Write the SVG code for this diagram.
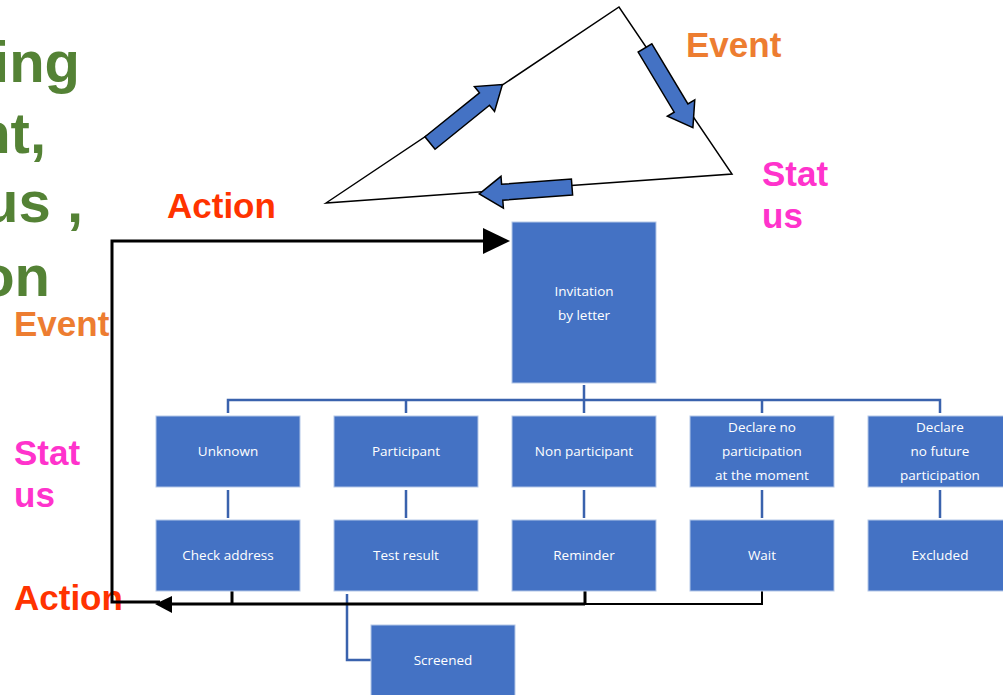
<svg xmlns="http://www.w3.org/2000/svg" width="1003" height="695" viewBox="0 0 1003 695">
<style>
.box{fill:#4472C4;stroke:#B4C7E7;stroke-width:1}
.bt{font-family:"Open Sans",sans-serif;font-size:13.5px;fill:#FFFFFF;text-anchor:middle}
.conn{stroke:#3A62AD;stroke-width:2.5;fill:none}
.fb{stroke:#000;fill:none}
.big{font-family:"Liberation Sans",Arial,sans-serif;font-weight:bold;font-size:58px;fill:#548235;text-anchor:end}
.lbl{font-family:"Liberation Sans",Arial,sans-serif;font-weight:bold;font-size:35px}
.act{fill:#FF3300}.evt{fill:#ED7D31}.sta{fill:#FF33CC}
.blk{fill:#4472C4;stroke:#000;stroke-width:1.5;stroke-linejoin:miter}
</style>
<defs>
<polygon id="barrow" points="0,-8 70,-8 70,-16 93,0 70,16 70,8 0,8"/>
</defs>

<g id="title">
<text class="big" x="80" y="82">ing</text>
<text class="big" x="46" y="153">nt,</text>
<text class="big" x="83" y="222">us ,</text>
<text class="big" x="50" y="296">on</text>
</g>

<g id="cycle">
<polygon points="326,203 619,7 732,174" fill="none" stroke="#000" stroke-width="1.5"/>
<use href="#barrow" class="blk" transform="translate(430,143) rotate(-38.9)"/>
<use href="#barrow" class="blk" transform="translate(645,48) rotate(59)"/>
<use href="#barrow" class="blk" transform="translate(572,187) rotate(175.7)"/>
</g>

<g id="labels">
<text class="lbl act" x="167" y="218">Action</text>
<text class="lbl evt" x="686" y="57">Event</text>
<text class="lbl sta" x="762" y="186">Stat</text>
<text class="lbl sta" x="762" y="228">us</text>
<text class="lbl evt" x="14" y="336">Event</text>
<text class="lbl sta" x="14" y="465">Stat</text>
<text class="lbl sta" x="14" y="507">us</text>
<text class="lbl act" x="14" y="610">Action</text>
</g>

<g id="connectors">
<path class="conn" d="M584,385 V413 M228,413 V400 H940 V413 M406,400 V413 M762,400 V413"/>
<path class="conn" d="M228,490 V518 M406,490 V518 M584,490 V518 M762,490 V518 M940,490 V518"/>
<path class="conn" d="M347,594 V660 H371"/>
<path class="fb" stroke-width="3" d="M490,241 H112 V602 H160"/>
<polygon points="483,228 510,241 483,254" fill="#000"/>
<path class="fb" stroke-width="3" d="M168,604 H585 M232,579 V604 M585,579 V604"/>
<path class="fb" stroke-width="2" d="M585,604 H762 V580"/>
<polygon points="155,604 172,596 172,613" fill="#000"/>
</g>

<g id="n-invitation"><rect class="box" x="512" y="222" width="144" height="161"/>
<text class="bt" x="584" y="296">Invitation</text><text class="bt" x="584" y="320">by letter</text></g>

<g id="n-unknown"><rect class="box" x="156" y="416" width="144" height="71"/><text class="bt" x="228" y="456">Unknown</text></g>
<g id="n-participant"><rect class="box" x="334" y="416" width="144" height="71"/><text class="bt" x="406" y="456">Participant</text></g>
<g id="n-nonparticipant"><rect class="box" x="512" y="416" width="144" height="71"/><text class="bt" x="584" y="456">Non participant</text></g>
<g id="n-declare-moment"><rect class="box" x="690" y="416" width="144" height="71"/>
<text class="bt" x="762" y="432">Declare no</text><text class="bt" x="762" y="456">participation</text><text class="bt" x="762" y="480">at the moment</text></g>
<g id="n-declare-future"><rect class="box" x="868" y="416" width="144" height="71"/>
<text class="bt" x="940" y="432">Declare</text><text class="bt" x="940" y="456">no future</text><text class="bt" x="940" y="480">participation</text></g>

<g id="n-check"><rect class="box" x="156" y="520" width="144" height="71"/><text class="bt" x="228" y="560">Check address</text></g>
<g id="n-test"><rect class="box" x="334" y="520" width="144" height="71"/><text class="bt" x="406" y="560">Test result</text></g>
<g id="n-reminder"><rect class="box" x="512" y="520" width="144" height="71"/><text class="bt" x="584" y="560">Reminder</text></g>
<g id="n-wait"><rect class="box" x="690" y="520" width="144" height="71"/><text class="bt" x="762" y="560">Wait</text></g>
<g id="n-excluded"><rect class="box" x="868" y="520" width="144" height="71"/><text class="bt" x="940" y="560">Excluded</text></g>
<g id="n-screened"><rect class="box" x="371" y="625" width="144" height="75"/><text class="bt" x="443" y="665">Screened</text></g>
</svg>
